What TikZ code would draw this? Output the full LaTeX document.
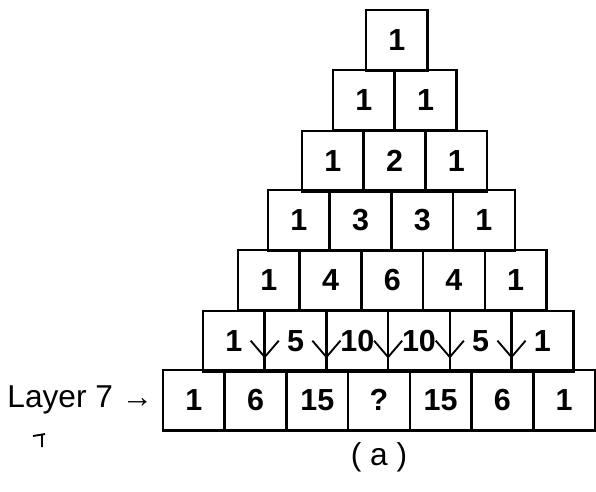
\documentclass[tikz,border=0pt]{standalone}
\usepackage{fontspec}
\setmainfont{Liberation Sans}
\usetikzlibrary{
	arrows.meta,
	positioning,
	calc
}

\begin{document}
\begin{tikzpicture}[
				x=0.03cm, y=-0.03cm,
				cell/.style={
					rectangle, draw, line width=2.2pt,
					minimum width=1.851cm, minimum height=1.815cm,
					inner sep=0pt, outer sep=0pt,
					font=\fontsize{26}{30}\selectfont\bfseries
				},
				sumarrow/.style={-{Straight Barb[length=14pt, width=24pt, line width=1.6pt]}, line width=1.6pt, black},
				label/.style={font=\fontsize{27}{31}\selectfont, inner sep=0pt}
				]
				\useasboundingbox (0,0) rectangle (596,491);
				
				% rows of the triangle: row / left edge / top edge / entries
				\foreach \r/\lx/\ty/\vals in {
					1/366/10/{1},
					2/333/70/{1,1},
					3/302/131/{1,2,1},
					4/268/190/{1,3,3,1},
					5/238/250/{1,4,6,4,1},
					6/203/311/{1,5,10,10,5,1},
					7/163/370/{1,6,15,?,15,6,1}}{
					\foreach \v [count=\c] in \vals {
						\node[cell, anchor=north west] (p\r-\c) at ({\lx+(\c-1)*61.7},\ty) {\v};
					}
				}
				
				% layer label
				\node[label, left=8pt of p7-1] (layer) {Layer 7 →};
				
				% caption
				\node[label, below=10pt of p7-4] (caption) {( a )};
				
				% stray mark below the label
				\draw[line width=1.6pt] (33,436) -- (45,434) (42,435) -- (42,447);
				
				% arrows from row 6 into row 7
				\foreach \k in {1,...,5}{
					\coordinate (tip\k) at ($(p6-\k.south east)+(0,-13)$);
					\draw[sumarrow] (p6-\k.east) -- (tip\k);
				}
			\end{tikzpicture}
\end{document}
